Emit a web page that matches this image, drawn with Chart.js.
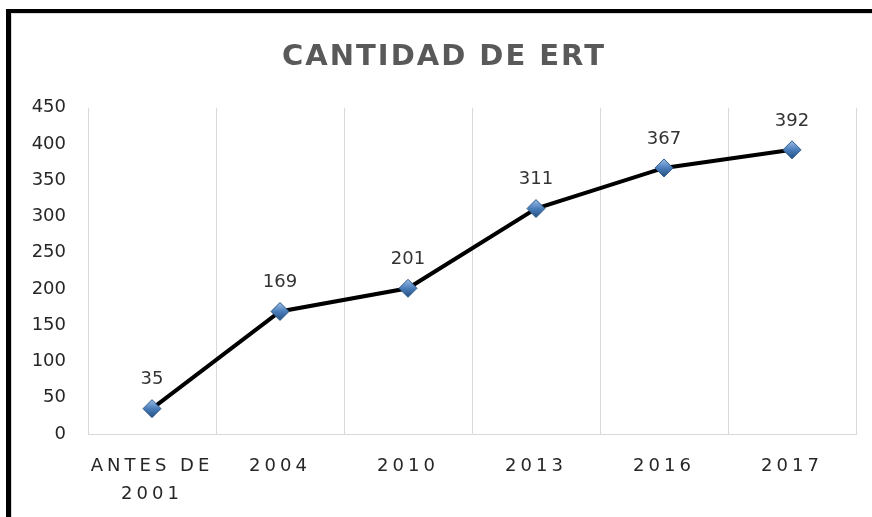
<!DOCTYPE html>
<html>
<head>
<meta charset="utf-8">
<script src="https://cdn.jsdelivr.net/npm/chart.js@4.4.4/dist/chart.umd.min.js"></script>
<style>
    html, body {margin: 0; padding: 0; background: #fff; overflow: hidden;}
    #wrap {position: relative; width: 872px; height: 517px;}
    #frame {
        position: absolute; left: 6px; top: 9px; width: 900px; height: 560px;
        border-left: 5px solid #000; border-top: 4px solid #000;
        box-shadow: inset 1px 1px 0 #d9d9d9; pointer-events: none;
    }
    canvas {position: absolute; left: 0; top: 0;}
</style>
</head>
<body>
<div id="wrap">
    <canvas id="chart" width="872" height="517"></canvas>
    <div id="frame"></div>
</div>
<script>
const categories = [["ANTES DE", "2001"], "2004", "2010", "2013", "2016", "2017"];
const ertCount = [35, 169, 201, 311, 367, 392];
const yTicks = {min: 0, max: 450, step: 50};

// wrap a drawing method so it runs with canvas letter spacing (and an optional x shift)
function withSpacing(obj, method, spacing, dx) {
    if (!obj || obj[method]._spaced) return;
    const orig = obj[method];
    const f = function (...args) {
        const c = this.ctx;
        c.save();
        c.letterSpacing = spacing;
        if (dx) c.translate(dx, 0);
        orig.apply(this, args);
        c.restore();
    };
    f._spaced = true;
    obj[method] = f;
}

const spacingPlugin = {
    id: "spacing",
    beforeDraw(chart) {
        withSpacing(chart.scales.x, "drawLabels", "4px");
        withSpacing(chart.titleBlock, "draw", "2px", 16);
    },
};

const valueLabels = {
    id: "valueLabels",
    afterDatasetsDraw(chart) {
        const ctx = chart.ctx;
        const meta = chart.getDatasetMeta(0);
        ctx.save();
        ctx.font = "18px 'DejaVu Sans'";
        ctx.fillStyle = "#333";
        ctx.textAlign = "center";
        ctx.textBaseline = "middle";
        meta.data.forEach((pt, i) => {
            ctx.fillText(String(ertCount[i]), pt.x, pt.y - 29);
        });
        ctx.restore();
    },
};

// shaded blue diamond, lighter on top
function markerFill(context) {
    const chart = context.chart;
    const ys = chart.scales.y;
    if (!ys || context.raw === undefined) return "#4a7ebb";
    const y = ys.getPixelForValue(context.raw);
    if (!Number.isFinite(y)) return "#4a7ebb";
    const g = chart.ctx.createLinearGradient(0, y - 9, 0, y + 9);
    g.addColorStop(0, "#9cbde6");
    g.addColorStop(0.5, "#4a7ebb");
    g.addColorStop(1, "#25507f");
    return g;
}

new Chart(document.getElementById("chart").getContext("2d"), {
    type: "line",
    data: {
        labels: categories,
        datasets: [
            {
                label: "Cantidad de ERT",
                data: ertCount,
                borderColor: "#000",
                borderWidth: 4,
                tension: 0,
                pointStyle: "rectRot",
                pointRadius: 9,
                pointBackgroundColor: markerFill,
                pointBorderColor: "#2f5a8c",
                pointBorderWidth: 1,
            },
        ],
    },
    options: {
        responsive: false,
        animation: false,
        devicePixelRatio: 1,
        layout: {padding: {left: 0, right: 16, top: 0, bottom: 0}},
        plugins: {
            legend: {display: false},
            tooltip: {enabled: false},
            title: {
                display: true,
                text: "CANTIDAD DE ERT",
                color: "#595959",
                font: {family: "'DejaVu Sans'", size: 29, weight: "bold", lineHeight: 1.2},
                padding: {top: 40, bottom: 33},
            },
        },
        scales: {
            x: {
                offset: true,
                grid: {display: true, offset: true, color: "#d9d9d9", drawTicks: false},
                border: {display: true, color: "#d9d9d9"},
                ticks: {
                    color: "#262626",
                    font: {family: "'DejaVu Sans'", size: 18, lineHeight: 1.55},
                    padding: 18,
                    maxRotation: 0,
                    autoSkip: false,
                },
                afterFit(scale) { scale.height = 83; },
            },
            y: {
                min: yTicks.min,
                max: yTicks.max,
                grid: {display: false, drawTicks: false},
                border: {display: false},
                ticks: {
                    stepSize: yTicks.step,
                    color: "#262626",
                    font: {family: "'DejaVu Sans'", size: 18},
                    padding: 22,
                },
                afterFit(scale) { scale.width = 88; },
            },
        },
    },
    plugins: [spacingPlugin, valueLabels],
});
</script>
</body>
</html>
